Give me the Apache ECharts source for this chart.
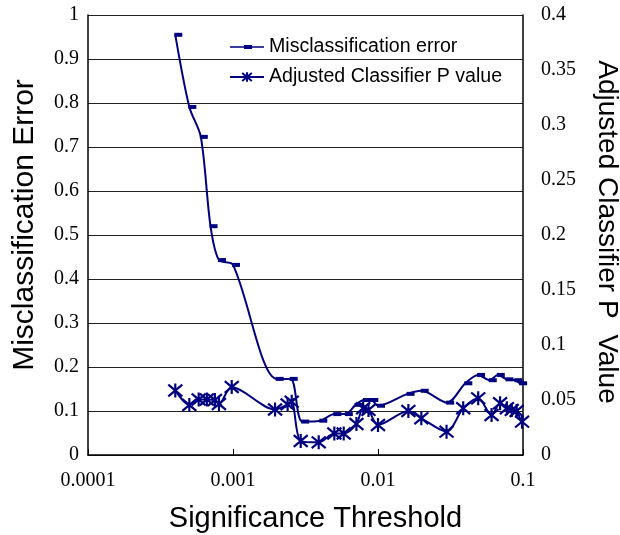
<!DOCTYPE html>
<html>
<head>
<meta charset="utf-8">
<script src="https://cdn.jsdelivr.net/npm/echarts@6/dist/echarts.min.js"></script>
<style>
html,body{margin:0;padding:0;background:#fff;}
#chart{width:620px;height:535px;}
</style>
</head>
<body>
<div id="chart"></div>
<script>
const xTickLabels = ['0.0001', '0.001', '0.01', '0.1'];
const seriesNames = ['Misclassification error', 'Adjusted Classifier P value'];
const misX = [0.0004, 0.0005, 0.0006, 0.0007, 0.0008, 0.001, 0.002, 0.0025, 0.003, 0.004, 0.005, 0.006, 0.007, 0.008, 0.009, 0.01, 0.016, 0.02, 0.03, 0.04, 0.049, 0.059, 0.067, 0.077, 0.0885, 0.0955, 0.112];
const misY = [0.955, 0.791, 0.723, 0.520, 0.443, 0.432, 0.173, 0.173, 0.076, 0.078, 0.093, 0.093, 0.114, 0.125, 0.125, 0.112, 0.139, 0.146, 0.119, 0.163, 0.182, 0.170, 0.182, 0.172, 0.170, 0.163, 0.182];
const pX = [0.0004, 0.0005, 0.00058, 0.00066, 0.00075, 0.0008, 0.00098, 0.00195, 0.00238, 0.00254, 0.00293, 0.0039, 0.005, 0.0058, 0.0071, 0.0079, 0.0086, 0.01, 0.0162, 0.0199, 0.0297, 0.0387, 0.0491, 0.0607, 0.0695, 0.0774, 0.0836, 0.0904, 0.0985, 0.109];
const pY = [0.0586, 0.0455, 0.0505, 0.0505, 0.050, 0.0464, 0.0618, 0.0414, 0.046, 0.0485, 0.0127, 0.0115, 0.0195, 0.0195, 0.0282, 0.0425, 0.041, 0.0273, 0.040, 0.0334, 0.0212, 0.0425, 0.0515, 0.0364, 0.047, 0.0425, 0.041, 0.040, 0.0303, 0.044];

const NAVY = '#000080';
const X_MAX = 0.1;
function build(xs, ys) {
  return xs.map((x, i) => x > X_MAX ? { value: [x, ys[i]], symbol: 'none' } : { value: [x, ys[i]] });
}
const chart = echarts.init(document.getElementById('chart'), null, { renderer: 'canvas' });
const serif = 'Liberation Serif, Times New Roman, serif';
const sans = 'Liberation Sans, Arial, sans-serif';
chart.setOption({
  animation: false,
  backgroundColor: '#fff',
  grid: { left: 88, right: 97, top: 15, bottom: 80, containLabel: false, outerBoundsMode: 'none' },
  legend: {
    orient: 'vertical', left: 229, top: 37, padding: 0, itemWidth: 34, itemHeight: 12, itemGap: 10,
    textStyle: { fontFamily: sans, fontSize: 19.6, color: '#000' },
    data: [
      { name: seriesNames[0], icon: 'path://M0 4.2H34V5.8H0Z M14 3H22V7H14Z' },
      { name: seriesNames[1] }
    ]
  },
  xAxis: {
    type: 'log', logBase: 10, min: 0.0001, max: X_MAX,
    name: 'Significance Threshold', nameLocation: 'middle', nameGap: 49,
    nameTextStyle: { fontFamily: sans, fontSize: 29, color: '#000', padding: [0, 0, 0, 20] },
    axisLine: { lineStyle: { color: '#000', width: 1.5 } },
    axisTick: { show: true, inside: true, length: 6, lineStyle: { color: '#000' } },
    minorTick: { show: false },
    splitLine: { show: false },
    axisLabel: {
      fontFamily: serif, fontSize: 20, color: '#000', margin: 16,
      formatter: v => xTickLabels[Math.round(Math.log10(v)) + 4]
    }
  },
  yAxis: [
    {
      type: 'value', min: 0, max: 1, interval: 0.1, position: 'left',
      name: 'Misclassification Error', nameLocation: 'middle', nameGap: 48, nameRotate: 90,
      nameTextStyle: { fontFamily: sans, fontSize: 30, color: '#000', padding: [0, 0, 0, 20] },
      axisLine: { show: true, lineStyle: { color: '#000', width: 1.5 } },
      axisTick: { show: false },
      splitLine: { show: true, lineStyle: { color: '#222', width: 1 } },
      axisLabel: { fontFamily: serif, fontSize: 20, color: '#000', margin: 9 }
    },
    {
      type: 'value', min: 0, max: 0.4, interval: 0.05, position: 'right',
      name: 'Adjusted Classifier P  Value', nameLocation: 'middle', nameGap: 70, nameRotate: -90,
      nameTextStyle: { fontFamily: sans, fontSize: 28, color: '#000', padding: [0, 6, 0, 0] },
      axisLine: { show: true, lineStyle: { color: '#000', width: 1.5 } },
      axisTick: { show: false },
      splitLine: { show: false },
      axisLabel: { fontFamily: serif, fontSize: 20, color: '#000', margin: 18 }
    }
  ],
  series: [
    {
      name: seriesNames[0], type: 'line', yAxisIndex: 0, smooth: 0.3, clip: false,
      symbol: 'rect', symbolSize: [8, 4], symbolOffset: [3, 0],
      lineStyle: { color: NAVY, width: 2 },
      itemStyle: { color: NAVY },
      data: build(misX, misY)
    },
    {
      name: seriesNames[1], type: 'line', yAxisIndex: 1, smooth: 0.3, clip: false,
      symbol: 'path://M6 0L6 12M0 1L12 11M0 11L12 1', symbolSize: 14,
      lineStyle: { color: NAVY, width: 2 },
      itemStyle: { color: NAVY, borderColor: NAVY, borderWidth: 2.2 },
      data: build(pX, pY)
    }
  ]
});
</script>
</body>
</html>
